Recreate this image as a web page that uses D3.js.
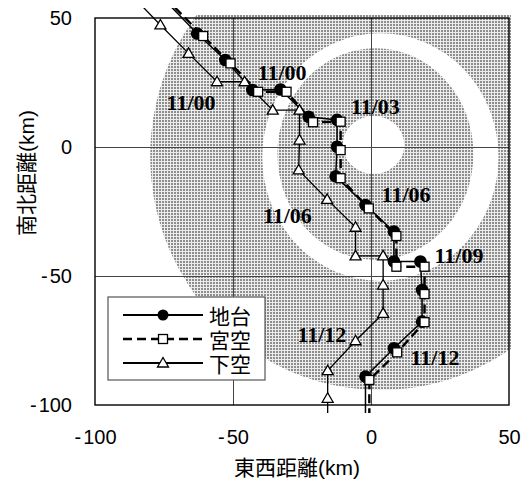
<!DOCTYPE html>
<html>
<head>
<meta charset="utf-8">
<script src="https://cdn.jsdelivr.net/npm/d3@7"></script>
<style>
    body { margin: 0; background: #fff; }
    svg { display: block; }
</style>
</head>
<body>
<div id="chart"></div>
<script>
// Axis ticks (km)
const xTicks = [-100, -50, 0, 50];
const yTicks = [-100, -50, 0, 50];

// Track positions (km); first and last points run off the plot
const jidaiX = [-73, -63, -52.8, -43, -32.8, -22.6, -12.3, -12.3, -12.8, -2, 8.3, 8.3, 17.9, 18.5, 18.5, 8.3, -2, -2];
const jidaiY = [55, 44, 33.7, 22.1, 22.3, 11.7, 10.5, 0.1, -11.4, -22.5, -32.8, -44.4, -44.4, -55.4, -67.7, -78, -89, -106];

const miyakoX = [-71, -60.8, -50.9, -40.9, -30.6, -21, -11, -11, -11, -0.8, 9.2, 9.2, 19.4, 19.4, 19.4, 9.5, -0.6, -0.6];
const miyakoY = [54, 43, 32.4, 21.4, 21.4, 9.6, 9.8, -1.2, -12.1, -23.8, -34.5, -46.4, -46.4, -57, -67.9, -79.6, -90.3, -106];

const shimoX = [-86, -76.3, -66.1, -55.8, -45.8, -35.6, -25.9, -25.9, -26.2, -15.9, -5.6, -5.6, 4.4, 4.4, 4.4, -5.6, -15.7, -15.7, -15.7];
const shimoY = [58, 47.3, 36.3, 25.3, 25.3, 14.3, 14.3, 2.7, -8.9, -20.3, -31.1, -42.2, -42.2, -53.5, -64.5, -75.1, -86.7, -97.4, -106];

const seriesNames = ['地台', '宮空', '下空'];

// Time labels along the tracks (km)
const labelText = ['11/00', '11/00', '11/03', '11/06', '11/06', '11/09', '11/12', '11/12'];
const labelX = [-32.2, -65.2, 1.6, 12.7, -30.3, 31.9, -17.8, 23.2];
const labelY = [28.9, 17.2, 15.7, -18.6, -26.4, -41.9, -72.7, -81.6];

// Concentric zones (km): outer dotted, white ring, inner dotted, white eye
const zoneCX = [3.4, 3.4, 1.6, 0.9];
const zoneCY = [-3.5, -3.9, -2.7, 0.8];
const zoneRX = [83.4, 42.8, 35.5, 11.2];
const zoneRY = [90.7, 48, 41, 11.2];

const width = 521;
const height = 480;

const svg = d3.select('#chart')
    .append('svg')
    .attr('width', width)
    .attr('height', height)
    .attr('viewBox', [0, 0, width, height]);

const x = d3.scaleLinear().domain([-100, 50]).range([95, 509]);
const y = d3.scaleLinear().domain([-100, 50]).range([405, 18]);

const defs = svg.append('defs');

// dotted screen like the original print
const pat = defs.append('pattern')
    .attr('id', 'dots')
    .attr('patternUnits', 'userSpaceOnUse')
    .attr('width', 3)
    .attr('height', 3);
pat.append('rect').attr('width', 3).attr('height', 3).attr('fill', '#ececec');
pat.append('rect').attr('width', 2).attr('height', 2).attr('fill', '#8e8e8e');

defs.append('clipPath').attr('id', 'plot-clip')
    .append('rect')
    .attr('x', x(-100)).attr('y', y(50) - 3)
    .attr('width', x(50) - x(-100) + 2).attr('height', y(-100) - y(50) + 3);

defs.append('clipPath').attr('id', 'track-clip')
    .append('rect')
    .attr('x', x(-100)).attr('y', 8)
    .attr('width', x(50) - x(-100)).attr('height', 413 - 8);

// zones
svg.append('g')
    .attr('clip-path', 'url(#plot-clip)')
    .selectAll('ellipse')
    .data(zoneRX)
    .join('ellipse')
    .attr('cx', (d, i) => x(zoneCX[i]))
    .attr('cy', (d, i) => y(zoneCY[i]))
    .attr('rx', (d, i) => x(zoneRX[i]) - x(0))
    .attr('ry', (d, i) => y(0) - y(zoneRY[i]))
    .attr('fill', (d, i) => i % 2 === 0 ? 'url(#dots)' : '#fff');

// grid lines
const plotH = y(-100) - y(50);
const plotW = x(50) - x(-100);
svg.append('g')
    .attr('transform', `translate(0,${y(-100)})`)
    .call(d3.axisBottom(x).tickValues([-50, 0]).tickSize(-plotH).tickFormat(''))
    .call(g => g.select('.domain').remove())
    .call(g => g.selectAll('line').attr('stroke', '#444').attr('stroke-width', 1));
svg.append('g')
    .attr('transform', `translate(${x(-100)},0)`)
    .call(d3.axisLeft(y).tickValues([-50, 0]).tickSize(-plotW).tickFormat(''))
    .call(g => g.select('.domain').remove())
    .call(g => g.selectAll('line').attr('stroke', '#444').attr('stroke-width', 1));

// frame
svg.append('rect')
    .attr('x', x(-100)).attr('y', y(50))
    .attr('width', plotW).attr('height', plotH)
    .attr('fill', 'none')
    .attr('stroke', '#000')
    .attr('stroke-width', 1.4);

// tick labels
function splitMinus(g) {
    g.selectAll('.tick text').each(function(d) {
        if (d < 0) {
            const t = d3.select(this);
            t.text(null);
            t.append('tspan').text('-');
            t.append('tspan').attr('dx', 2).text(Math.abs(d));
        }
    });
}
svg.append('g')
    .attr('transform', `translate(0,${y(-100)})`)
    .call(d3.axisBottom(x).tickValues(xTicks).tickSize(0).tickPadding(25))
    .call(g => g.select('.domain').remove())
    .call(g => g.selectAll('text')
        .attr('font-family', '"Liberation Sans", Arial, sans-serif')
        .attr('font-size', 20)
        .attr('fill', '#000'))
    .call(splitMinus);
svg.append('g')
    .attr('transform', `translate(${x(-100)},0)`)
    .call(d3.axisLeft(y).tickValues(yTicks).tickSize(0).tickPadding(23))
    .call(g => g.select('.domain').remove())
    .call(g => g.selectAll('text')
        .attr('font-family', '"Liberation Sans", Arial, sans-serif')
        .attr('font-size', 20)
        .attr('fill', '#000'))
    .call(splitMinus);

// axis titles
const titleFont = '"Liberation Sans", "Noto Sans CJK JP", sans-serif';
svg.append('text')
    .attr('x', 297).attr('y', 467)
    .attr('text-anchor', 'middle')
    .attr('dominant-baseline', 'central')
    .attr('font-family', titleFont)
    .attr('font-size', 21)
    .text('東西距離(km)');
svg.append('text')
    .attr('transform', 'translate(26,173) rotate(-90)')
    .attr('text-anchor', 'middle')
    .attr('dominant-baseline', 'central')
    .attr('font-family', titleFont)
    .attr('font-size', 21)
    .text('南北距離(km)');

// tracks
const tri = 'M0,-5.5L5.5,4L-5.5,4Z';
const line = d3.line().x(d => x(d[0])).y(d => y(d[1]));
const jidai = d3.zip(jidaiX, jidaiY);
const miyako = d3.zip(miyakoX, miyakoY);
const shimo = d3.zip(shimoX, shimoY);

const tracks = svg.append('g').attr('clip-path', 'url(#track-clip)');

tracks.append('path')
    .attr('d', line(shimo))
    .attr('fill', 'none').attr('stroke', '#000').attr('stroke-width', 1.3);
tracks.append('path')
    .attr('d', line(jidai))
    .attr('fill', 'none').attr('stroke', '#000').attr('stroke-width', 1.5);
tracks.append('path')
    .attr('d', line(miyako))
    .attr('fill', 'none').attr('stroke', '#000').attr('stroke-width', 2.4)
    .attr('stroke-dasharray', '9,5');

tracks.append('g')
    .selectAll('path')
    .data(shimo.slice(1, -1))
    .join('path')
    .attr('transform', d => `translate(${x(d[0])},${y(d[1])})`)
    .attr('d', tri)
    .attr('fill', '#fff').attr('stroke', '#000').attr('stroke-width', 1.3);
tracks.append('g')
    .selectAll('circle')
    .data(jidai.slice(1, -1))
    .join('circle')
    .attr('cx', d => x(d[0])).attr('cy', d => y(d[1]))
    .attr('r', 6.3)
    .attr('fill', '#000');
tracks.append('g')
    .selectAll('rect')
    .data(miyako.slice(1, -1))
    .join('rect')
    .attr('x', d => x(d[0]) - 4.5).attr('y', d => y(d[1]) - 4.5)
    .attr('width', 9).attr('height', 9)
    .attr('fill', '#fff').attr('stroke', '#000').attr('stroke-width', 1.3);

// time labels
svg.append('g')
    .selectAll('text')
    .data(labelText)
    .join('text')
    .attr('x', (d, i) => x(labelX[i]))
    .attr('y', (d, i) => y(labelY[i]))
    .attr('text-anchor', 'middle')
    .attr('dominant-baseline', 'central')
    .attr('font-family', '"Liberation Serif", "Times New Roman", serif')
    .attr('font-weight', 'bold')
    .attr('font-size', 22)
    .text(d => d);

// legend
const legend = svg.append('g').attr('transform', 'translate(108,297)');
legend.append('rect')
    .attr('width', 157).attr('height', 83)
    .attr('fill', '#fff')
    .attr('stroke', '#555').attr('stroke-width', 1.2);
const rows = legend.selectAll('g.row')
    .data(seriesNames)
    .join('g')
    .attr('class', 'row')
    .attr('transform', (d, i) => `translate(0,${18 + i * 24})`);
rows.append('line')
    .attr('x1', 15).attr('x2', 95)
    .attr('stroke', '#000')
    .attr('stroke-width', (d, i) => i === 1 ? 2.6 : 1.8)
    .attr('stroke-dasharray', (d, i) => i === 1 ? '9,5' : null);
rows.filter((d, i) => i === 0).append('circle')
    .attr('cx', 55).attr('r', 5.5).attr('fill', '#000');
rows.filter((d, i) => i === 1).append('rect')
    .attr('x', 50.5).attr('y', -4.5).attr('width', 9).attr('height', 9)
    .attr('fill', '#fff').attr('stroke', '#000').attr('stroke-width', 1.3);
rows.filter((d, i) => i === 2).append('path')
    .attr('transform', 'translate(55,0)')
    .attr('d', tri)
    .attr('fill', '#fff').attr('stroke', '#000').attr('stroke-width', 1.3);
rows.append('text')
    .attr('x', 101)
    .attr('dominant-baseline', 'central')
    .attr('font-family', '"Noto Sans CJK JP", sans-serif')
    .attr('font-size', 21)
    .text(d => d);
</script>
</body>
</html>
